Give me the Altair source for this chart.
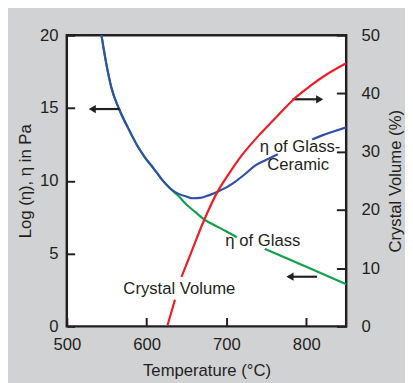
import altair as alt
import pandas as pd

# ---- data ----
# Viscosity of the glass-ceramic (blue); two pieces, interrupted by its label
gc1_T = [543.4, 549.5, 555.6, 565.9, 577, 588.4, 598, 608.9, 619, 629.3, 640, 649.8, 658, 667, 675, 688.7, 700, 711.2, 723, 735.8, 750, 764.4]
gc1_v = [20, 18.03, 16.45, 14.88, 13.6, 12.41, 11.6, 10.84, 10.1, 9.49, 9.1, 8.92, 8.8, 8.83, 8.95, 9.25, 9.55, 9.95, 10.45, 11.04, 11.45, 11.83]
gc2_T = [807.4, 820, 835, 850]
gc2_v = [12.84, 13.12, 13.4, 13.67]

# Viscosity of the glass (green)
g1_T = [543.4, 549.5, 555.6, 565.9, 577, 588.4, 598, 608.9, 619, 629.3, 640, 649.8, 660, 672.3, 685, 699, 713]
g1_v = [20, 18.03, 16.45, 14.88, 13.6, 12.41, 11.6, 10.84, 10.1, 9.49, 8.95, 8.37, 7.9, 7.34, 6.95, 6.55, 6.12]
g2_T = [748, 800, 850]
g2_v = [5.32, 4.1, 2.9]

# Crystal volume (red, right axis, %)
cv1_T = [626, 635.5]
cv1_v = [0.1, 4.6]
cv2_T = [643.7, 655, 672.3, 688.7, 703, 719.4, 744, 765, 784.9, 805, 825.8, 850]
cv2_v = [8.5, 12.4, 18.35, 23.1, 26.2, 29.4, 33.3, 36.3, 39.1, 41.3, 43.3, 45.2]

# annotations (left-axis units)
label_text = ["η of Glass-", "Ceramic", "η of Glass", "Crystal Volume"]
label_T = [792.3, 789.8, 745.6, 641]
label_v = [12.3, 11.08, 5.89, 2.59]

arrow_T1 = [530.7, 782.8, 777.5]
arrow_T2 = [566, 818, 813.5]
arrow_v = [14.93, 15.6, 3.41]
head_T = [531.9, 816.8, 779.6]
head_shape = ["triangle-left", "triangle-right", "triangle-left"]

x_ticks = [500, 600, 700, 800]
left_ticks = [0, 5, 10, 15, 20]
right_ticks = [0, 10, 20, 30, 40, 50]

GREEN = "#12a14a"
BLUE = "#2f4fa8"
RED = "#ee1c25"
INK = "#231f20"
FONT = "Liberation Sans, Arial, Helvetica"
FS = 17

glass_rows = []
for seg, T, v in [(1, g1_T, g1_v), (2, g2_T, g2_v)]:
    for t, val in zip(T, v):
        glass_rows.append({"seg": seg, "T": t, "v": val})
glass_df = pd.DataFrame(glass_rows)

gc_rows = []
for seg, T, v in [(1, gc1_T, gc1_v), (2, gc2_T, gc2_v)]:
    for t, val in zip(T, v):
        gc_rows.append({"seg": seg, "T": t, "v": val})
gc_df = pd.DataFrame(gc_rows)

cv_rows = []
for seg, T, v in [(1, cv1_T, cv1_v), (2, cv2_T, cv2_v)]:
    for t, val in zip(T, v):
        cv_rows.append({"seg": seg, "T": t, "cv": val})
cv_df = pd.DataFrame(cv_rows)

lab_df = pd.DataFrame({"text": label_text, "T": label_T, "v": label_v})
arr_df = pd.DataFrame({"T1": arrow_T1, "T2": arrow_T2, "v": arrow_v})
head_df = pd.DataFrame({"T": head_T, "v": arrow_v, "shape": head_shape})

xscale = alt.Scale(domain=[500, 850], nice=False, zero=False)
yscale = alt.Scale(domain=[0, 20], nice=False)

x_axis = alt.Axis(values=x_ticks, title="Temperature (°C)", offset=-9, tickSize=9,
                  tickWidth=2, tickColor=INK, domain=False, grid=False,
                  labelPadding=11, titlePadding=10, labelFlush=False)
y_axis = alt.Axis(values=left_ticks, orient="left", title="Log (η), η in Pa",
                  offset=-8, tickSize=8, tickWidth=2, tickColor=INK, domain=False,
                  grid=False, labelPadding=9, titlePadding=5, labelFlush=False)
r_axis = alt.Axis(values=right_ticks, orient="right", title="Crystal Volume (%)",
                  offset=-10, tickSize=10, tickWidth=2, tickColor=INK, domain=False,
                  grid=False, labelPadding=15, titlePadding=9, titleAngle=270,
                  titleBaseline="top", labelFlush=False)

glass = alt.Chart(glass_df).mark_line(strokeWidth=2.2, interpolate="monotone", color=GREEN).encode(
    x=alt.X("T:Q", scale=xscale, axis=x_axis),
    y=alt.Y("v:Q", scale=yscale, axis=y_axis),
    detail="seg:N",
)

gceram = alt.Chart(gc_df).mark_line(strokeWidth=2.2, interpolate="monotone", color=BLUE).encode(
    x=alt.X("T:Q", scale=xscale, axis=x_axis),
    y=alt.Y("v:Q", scale=yscale, axis=y_axis),
    detail="seg:N",
)

labels = alt.Chart(lab_df).mark_text(font=FONT, fontSize=FS, color=INK, baseline="middle", align="center").encode(
    x=alt.X("T:Q", scale=xscale, axis=x_axis),
    y=alt.Y("v:Q", scale=yscale, axis=y_axis),
    text="text:N",
)

shafts = alt.Chart(arr_df).mark_rule(strokeWidth=2.2, color=INK).encode(
    x=alt.X("T1:Q", scale=xscale, axis=x_axis),
    x2="T2:Q",
    y=alt.Y("v:Q", scale=yscale, axis=y_axis),
)

heads = alt.Chart(head_df).mark_point(filled=True, size=70, color=INK, opacity=1).encode(
    x=alt.X("T:Q", scale=xscale, axis=x_axis),
    y=alt.Y("v:Q", scale=yscale, axis=y_axis),
    shape=alt.Shape("shape:N", scale=None),
)

left = alt.layer(glass, gceram, labels, shafts, heads)

crystal = alt.Chart(cv_df).mark_line(strokeWidth=2.2, color=RED, interpolate="monotone").encode(
    x=alt.X("T:Q", scale=xscale, axis=x_axis),
    y=alt.Y("cv:Q", scale=alt.Scale(domain=[0, 50], nice=False), axis=r_axis),
    detail="seg:N",
)

chart = alt.layer(left, crystal).resolve_scale(y="independent").properties(
    width=285, height=297,
    autosize=alt.AutoSizeParams(type="none"),
    padding={"left": 60, "top": 24, "right": 60, "bottom": 54},
    background="#d1d2d4",
).configure_view(
    fill="white", stroke=INK, strokeWidth=2.5
).configure_axis(
    labelFont=FONT, labelFontSize=FS, labelColor=INK,
    titleFont=FONT, titleFontSize=FS, titleFontWeight="normal", titleColor=INK,
)

chart.save("out.html", embed_options={"renderer": "svg", "actions": False})
